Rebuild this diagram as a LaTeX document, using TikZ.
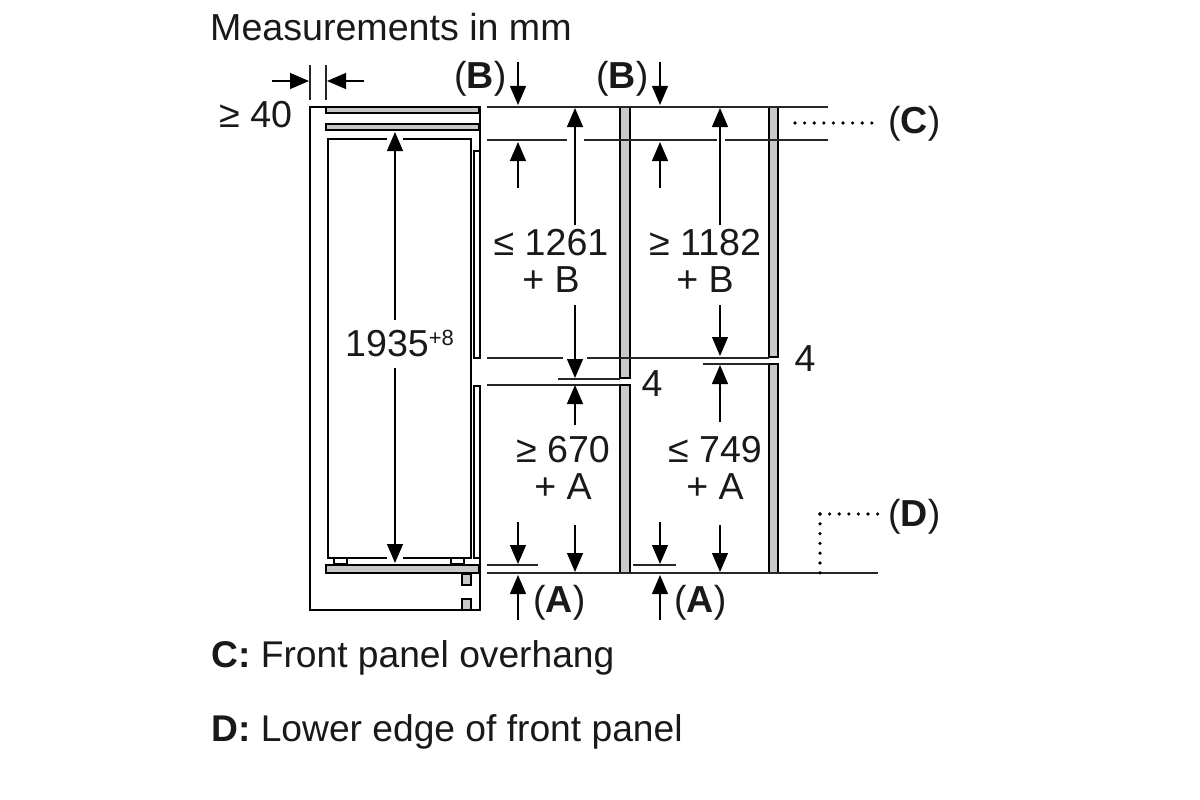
\documentclass[tikz,border=0pt]{standalone}
\usepackage{fontspec}
\setmainfont{Liberation Sans}
\usetikzlibrary{arrows.meta,positioning}
\definecolor{panelgray}{HTML}{C8C8C8}
\tikzset{
    dim/.style={line width=1.2pt,-{Triangle[length=19pt,width=16pt]}},
    wall/.style={line width=2.8pt,line join=miter},
    panel/.style={wall,fill=panelgray},
    thin line/.style={line width=1.5pt,black!85},
    lbl/.style={inner sep=0pt,font=\fontsize{37.6}{37.5}\selectfont,text=black!90,align=center},
    lblw/.style={lbl,anchor=west},
    note/.style={lblw,font=\fontsize{37.2}{37.5}\selectfont},
    dot/.style={circle,fill=black,inner sep=0pt,minimum size=3.6pt}
}
\begin{document}
\begin{tikzpicture}[x=1pt,y=-1pt]
    \useasboundingbox (0,0) rectangle (1200,800);

    % cabinet
    \draw[wall] (480,358) -- (480,107) -- (310,107) -- (310,610) -- (480,610) -- (480,386);
    \draw[panel] (326,107) rectangle (479,113);
    \draw[panel] (326,124) rectangle (479,130);
    \draw[panel] (326,565) rectangle (479,573);
    \draw[panel] (462,574) rectangle (471,585);
    \draw[panel] (462,599) rectangle (471,610);
    % appliance
    \draw[wall] (387,139) -- (328,139) -- (328,558) -- (387,558);
    \draw[wall] (403,139) -- (471,139) -- (471,558) -- (403,558);
    \foreach \x in {334,451} {
        \draw[line width=2pt] (\x,558) rectangle ++(13,6);
    }
    \draw[line width=2pt] (474,151) rectangle (480,358);
    \draw[line width=2pt] (474,386) rectangle (480,558);

    % front panels
    \draw[panel] (620,107) rectangle (630,378);
    \draw[panel] (620,385) rectangle (630,573);
    \draw[panel] (769,107) rectangle (778,357);
    \draw[panel] (769,364) rectangle (778,573);

    % reference lines
    \draw[thin line] (310,65) -- (310,100);
    \draw[thin line] (326,65) -- (326,100);
    \draw[thin line] (487,107) -- (828,107);
    \draw[thin line] (487,140) -- (567,140);
    \draw[thin line] (584,140) -- (717,140);
    \draw[thin line] (725,140) -- (828,140);
    \draw[thin line] (487,358) -- (563,358);
    \draw[thin line] (587,358) -- (769,358);
    \draw[thin line] (558,379) -- (620,379);
    \draw[thin line] (487,385) -- (620,385);
    \draw[thin line] (703,364) -- (769,364);
    \draw[thin line] (487,565) -- (538,565);
    \draw[thin line] (633,565) -- (676,565);
    \draw[thin line] (487,573) -- (878,573);

    % dimension arrows
    \draw[dim] (272,81) -- (309,81);
    \draw[dim] (364,81) -- (327,81);
    \draw[dim] (395,320) -- (395,132);
    \draw[dim] (395,368) -- (395,563);
    \foreach \x in {518,660} {
        \draw[dim] (\x,62) -- (\x,105);
        \draw[dim] (\x,188) -- (\x,142);
        \draw[dim] (\x,522) -- (\x,564);
        \draw[dim] (\x,620) -- (\x,575);
    }
    \foreach \x/\ya/\yb/\yc/\yd in {575/378/385/425/572,720/356/365/422/572} {
        \draw[dim] (\x,225) -- (\x,108);
        \draw[dim] (\x,305) -- (\x,\ya);
        \draw[dim] (\x,\yc) -- (\x,\yb);
        \draw[dim] (\x,525) -- (\x,\yd);
    }

    % dotted leaders
    \foreach \i in {0,...,8} {
        \node[dot] (c\i) at (795+\i*9.6,123) {};
    }
    \foreach \i in {0,...,6} {
        \node[dot] (dh\i) at (820+\i*9.6,514) {};
        \node[dot] (dv\i) at (820,514+\i*9.8) {};
    }

    % labels
    \node[lblw] (title) at (210,27) {Measurements in mm};
    \node[lblw] (gap) at (219,115) {≥ 40};
    \node[lblw] (b1) at (454,79) {(\textbf{B})};
    \node[lblw] (b2) at (596,79) {(\textbf{B})};
    \node[lbl] (top1) at (551,261) {≤ 1261\\+ B};
    \node[lbl] (top2) at (705,261) {≥ 1182\\+ B};
    \node[lbl] (low1) at (563,468) {≥ 670\\+ A};
    \node[lbl] (low2) at (715,468) {≤ 749\\+ A};
    \node[lblw] (h) at (345,343) {1935\raisebox{11pt}{\fontsize{22}{22}\selectfont +8}};
    \node[lbl] (four1) at (652,384) {4};
    \node[lbl] (four2) at (805,359) {4};
    \node[lblw] (a1) at (533,603) {(\textbf{A})};
    \node[lblw] (a2) at (674,603) {(\textbf{A})};
    \node[lblw] (cc) at (888,124) {(\textbf{C})};
    \node[lblw] (dd) at (888,517) {(\textbf{D})};
    \node[note] (note1) at (211,658) {\textbf{C:} Front panel overhang};
    \node[note] (note2) at (211,732) {\textbf{D:} Lower edge of front panel};
\end{tikzpicture}
\end{document}
